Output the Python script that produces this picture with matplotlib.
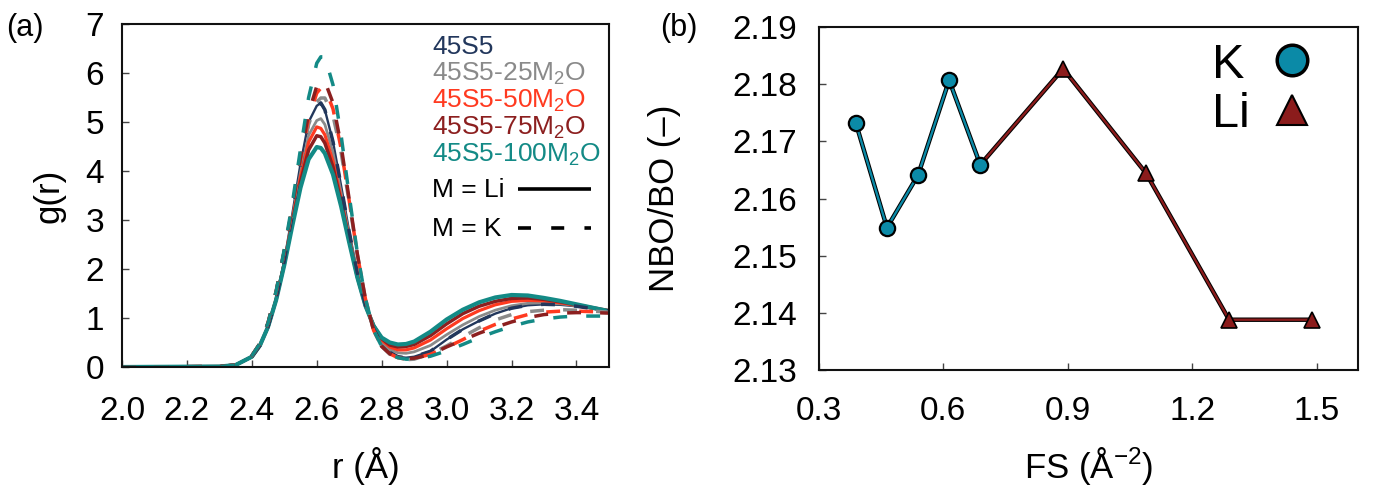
import matplotlib
matplotlib.use("Agg")
import matplotlib.pyplot as plt
import matplotlib.patheffects as pe
import numpy as np

plt.rcParams['font.family'] = ['Liberation Sans', 'DejaVu Sans']
plt.rcParams['mathtext.fontset'] = 'custom'
plt.rcParams['mathtext.rm'] = 'Liberation Sans'
plt.rcParams['mathtext.it'] = 'Liberation Sans:italic'
plt.rcParams['mathtext.bf'] = 'Liberation Sans:bold'

# ---------------- Panel (a) data: Si-O g(r) ----------------
r = [2.0, 2.3, 2.35, 2.4, 2.425, 2.45, 2.475, 2.5, 2.525, 2.55, 2.575, 2.6, 2.6125,
     2.625, 2.65, 2.675, 2.7, 2.725, 2.75, 2.775, 2.8, 2.825, 2.85, 2.875, 2.9,
     2.95, 3.0, 3.05, 3.1, 3.15, 3.2, 3.25, 3.3, 3.35, 3.4, 3.45, 3.5]

g_li_45s5 = [0, 0.01, 0.04, 0.21, 0.44, 0.83, 1.40, 2.17, 3.13, 4.15, 5.0, 5.33, 5.39,
             5.25, 4.6, 3.7, 2.76, 1.93, 1.27, 0.78, 0.46, 0.3, 0.21, 0.19, 0.21,
             0.32, 0.56, 0.77, 0.94, 1.09, 1.2, 1.26, 1.28, 1.27, 1.24, 1.19, 1.14]
g_li_25 = [0, 0.01, 0.04, 0.21, 0.44, 0.82, 1.39, 2.14, 3.04, 3.97, 4.73, 5.03, 5.07,
           4.95, 4.38, 3.56, 2.68, 1.9, 1.27, 0.82, 0.52, 0.36, 0.29, 0.28, 0.31,
           0.44, 0.66, 0.86, 1.03, 1.16, 1.25, 1.3, 1.31, 1.29, 1.25, 1.2, 1.15]
g_li_50 = [0, 0.01, 0.04, 0.21, 0.44, 0.82, 1.38, 2.12, 3.0, 3.88, 4.59, 4.9, 4.87,
           4.74, 4.2, 3.44, 2.61, 1.86, 1.26, 0.85, 0.55, 0.41, 0.35, 0.35, 0.39,
           0.55, 0.78, 0.99, 1.15, 1.27, 1.34, 1.36, 1.35, 1.31, 1.26, 1.2, 1.15]
g_li_75 = [0, 0.01, 0.04, 0.21, 0.44, 0.82, 1.38, 2.10, 2.95, 3.78, 4.43, 4.72, 4.70,
           4.57, 4.08, 3.37, 2.58, 1.84, 1.25, 0.85, 0.58, 0.45, 0.41, 0.42, 0.46,
           0.64, 0.88, 1.09, 1.24, 1.34, 1.4, 1.41, 1.38, 1.33, 1.27, 1.21, 1.15]
g_li_100 = [0, 0.01, 0.04, 0.21, 0.44, 0.82, 1.37, 2.08, 2.89, 3.66, 4.24, 4.49, 4.47,
            4.36, 3.93, 3.28, 2.54, 1.83, 1.25, 0.84, 0.6, 0.5, 0.46, 0.47, 0.52,
            0.72, 0.97, 1.17, 1.32, 1.42, 1.47, 1.46, 1.41, 1.35, 1.28, 1.21, 1.14]

g_k_45s5 = g_li_45s5  # same base glass
g_k_25 = [0, 0.01, 0.04, 0.23, 0.48, 0.9, 1.54, 2.35, 3.22, 4.16, 4.95, 5.41, 5.49,
          5.49, 5.13, 4.38, 3.36, 2.29, 1.39, 0.75, 0.42, 0.26, 0.18, 0.15, 0.16,
          0.27, 0.43, 0.62, 0.8, 0.96, 1.07, 1.13, 1.16, 1.17, 1.16, 1.14, 1.12]
g_k_50 = [0, 0.01, 0.04, 0.23, 0.48, 0.9, 1.54, 2.37, 3.25, 4.23, 5.08, 5.59, 5.69,
          5.69, 5.27, 4.46, 3.39, 2.30, 1.39, 0.75, 0.42, 0.27, 0.19, 0.16, 0.17,
          0.26, 0.4, 0.56, 0.73, 0.87, 0.98, 1.07, 1.12, 1.14, 1.14, 1.13, 1.11]
g_k_75 = [0, 0.01, 0.04, 0.23, 0.48, 0.9, 1.54, 2.37, 3.28, 4.28, 5.18, 5.73, 5.83,
          5.83, 5.39, 4.52, 3.42, 2.31, 1.39, 0.75, 0.42, 0.27, 0.2, 0.17, 0.18,
          0.25, 0.41, 0.55, 0.69, 0.81, 0.92, 1.01, 1.07, 1.1, 1.11, 1.11, 1.1]
g_k_100 = [0, 0.01, 0.04, 0.23, 0.48, 0.9, 1.55, 2.40, 3.35, 4.45, 5.5, 6.2, 6.33,
           6.33, 5.76, 4.73, 3.5, 2.33, 1.40, 0.75, 0.42, 0.26, 0.19, 0.16, 0.16,
           0.22, 0.33, 0.46, 0.6, 0.72, 0.83, 0.92, 0.98, 1.02, 1.04, 1.04, 1.04]

glass_names = ["45S5", "45S5-25M$_2$O", "45S5-50M$_2$O", "45S5-75M$_2$O", "45S5-100M$_2$O"]
glass_colors = ["#22375c", "#8a8a8a", "#ff3a20", "#8c1f1f", "#138a86"]
li_series = [g_li_45s5, g_li_25, g_li_50, g_li_75, g_li_100]
k_series = [g_k_45s5, g_k_25, g_k_50, g_k_75, g_k_100]
li_widths = [1.7, 2.0, 2.3, 2.5, 3.0]

# ---------------- Panel (b) data: NBO/BO vs field strength ----------------
fs_k = [0.389, 0.464, 0.539, 0.614, 0.689]
nbo_k = [2.1732, 2.1549, 2.1641, 2.1807, 2.1659]
fs_li = [0.889, 1.089, 1.289, 1.490]
nbo_li = [2.1827, 2.1644, 2.1388, 2.1388]

x_ticks_a = [2.0, 2.2, 2.4, 2.6, 2.8, 3.0, 3.2, 3.4]
y_ticks_a = [0, 1, 2, 3, 4, 5, 6, 7]
x_ticks_b = [0.3, 0.6, 0.9, 1.2, 1.5]
y_ticks_b = [2.13, 2.14, 2.15, 2.16, 2.17, 2.18, 2.19]

K_COLOR = "#0b8aa7"
LI_COLOR = "#8b1c1c"

fig = plt.figure(figsize=(13.78, 4.91), dpi=100)
axa = fig.add_axes([0.0885, 0.2525, 0.3534, 0.6986])
axb = fig.add_axes([0.5943, 0.2464, 0.3912, 0.6986])

# ---- panel (a)
for g, c, lw in zip(li_series, glass_colors, li_widths):
    axa.plot(r, g, color=c, lw=lw, solid_capstyle='butt', solid_joinstyle='round')
for g, c in zip(k_series, glass_colors):
    axa.plot(r, g, color=c, lw=2.5, dashes=(4.0, 5.5), dash_capstyle='butt')

axa.set_xlim(2.0, 3.5)
axa.set_ylim(0, 7)
axa.set_xticks(x_ticks_a)
axa.set_xticklabels([f"{v:.1f}" for v in x_ticks_a])
axa.set_yticks(y_ticks_a)
axa.set_yticklabels([str(v) for v in y_ticks_a])

# legend (a)
base_y = [0.9125, 0.8338, 0.7551, 0.6764, 0.5977]
for name, c, yb in zip(glass_names, glass_colors, base_y):
    axa.text(0.6366, yb, name, color=c, fontsize=19, transform=axa.transAxes,
             ha='left', va='baseline')
axa.text(0.6366, 0.4956, "M = Li", color='black', fontsize=19, transform=axa.transAxes,
         ha='left', va='baseline')
axa.text(0.6366, 0.3819, "M = K", color='black', fontsize=19, transform=axa.transAxes,
         ha='left', va='baseline')
axa.plot([0.8131, 0.963], [0.519, 0.519], color='black', lw=2.6,
         transform=axa.transAxes, solid_capstyle='butt')
axa.plot([0.8131, 0.963], [0.405, 0.405], color='black', lw=2.6, dashes=(3.6, 5.6),
         transform=axa.transAxes, dash_capstyle='butt')

axa.text(-0.150, 0.5, "g(r)", rotation=90, fontsize=25, transform=axa.transAxes,
         ha='center', va='center')
axa.text(0.5, -0.289, "r (Å)", fontsize=25, transform=axa.transAxes,
         ha='center', va='center')

# ---- panel (b)
outline = [pe.Stroke(linewidth=3.2, foreground='black'), pe.Normal()]
axb.plot([fs_k[-1]] + fs_li, [nbo_k[-1]] + nbo_li, color=LI_COLOR, lw=1.7,
         path_effects=outline, zorder=2)
axb.plot(fs_k, nbo_k, color=K_COLOR, lw=1.7, path_effects=outline, zorder=3)
axb.plot(fs_li, nbo_li, linestyle='none', marker='^', ms=12, mfc=LI_COLOR,
         mec='black', mew=1.2, zorder=4)
axb.plot(fs_k, nbo_k, linestyle='none', marker='o', ms=11, mfc=K_COLOR,
         mec='black', mew=1.6, zorder=5)

axb.set_xlim(0.3, 1.6)
axb.set_ylim(2.13, 2.19)
axb.set_xticks(x_ticks_b)
axb.set_xticklabels([f"{v:.1f}" for v in x_ticks_b])
axb.set_yticks(y_ticks_b)
axb.set_yticklabels([f"{v:.2f}" for v in y_ticks_b])

axb.text(0.729, 0.851, "K", fontsize=35, transform=axb.transAxes, ha='left', va='baseline')
axb.text(0.729, 0.708, "Li", fontsize=35, transform=axb.transAxes, ha='left', va='baseline')
axb.plot([0.8776], [0.904], marker='o', ms=22, mfc=K_COLOR, mec='black', mew=2.5,
         transform=axb.transAxes, clip_on=False)
axb.plot([0.8776], [0.758], marker='^', ms=22, mfc=LI_COLOR, mec='black', mew=1.5,
         transform=axb.transAxes, clip_on=False)

axb.text(-0.2857, 0.501, "NBO/BO (–)", rotation=90, fontsize=25, transform=axb.transAxes,
         ha='center', va='center')
axb.text(0.5, -0.28, "FS (Å$^{-2}$)", fontsize=25, transform=axb.transAxes,
         ha='center', va='center')

for ax, lsize, xpad, ypad in ((axa, 24, 21, 13), (axb, 24, 19, 16)):
    for s in ax.spines.values():
        s.set_linewidth(1.5)
        s.set_color('#111111')
    ax.tick_params(axis='both', direction='in', length=5, width=1.0, color='#444444',
                   labelsize=lsize, top=False, right=False)
    ax.tick_params(axis='x', pad=xpad)
    ax.tick_params(axis='y', pad=ypad)

fig.text(25 / 1378, 1 - 28 / 491, "(a)", fontsize=22, ha='center', va='center')
fig.text(679 / 1378, 1 - 28 / 491, "(b)", fontsize=22, ha='center', va='center')

fig.savefig("out.png", dpi=100)
